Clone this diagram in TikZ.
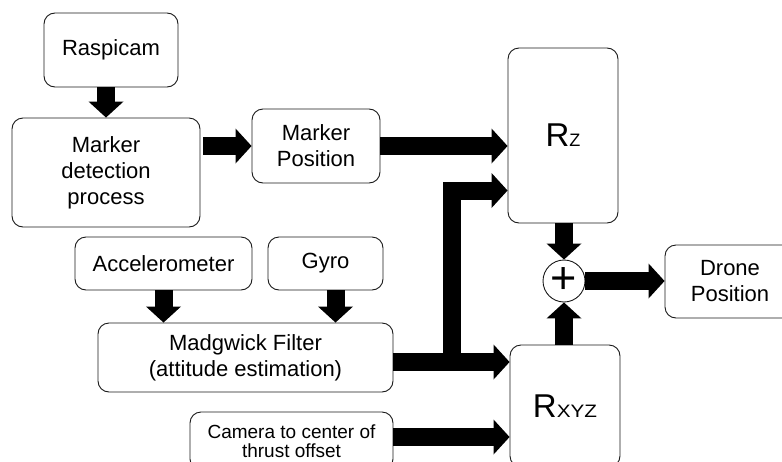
\documentclass[tikz,border=0pt]{standalone}
\usepackage{fontspec}
\setmainfont{Liberation Sans}
\usetikzlibrary{arrows.meta}
\newcommand{\rbig}{\fontsize{33}{33}\selectfont}
\newcommand{\rsmall}{\fontsize{18}{18}\selectfont}
\begin{document}
\begin{tikzpicture}[x=1pt,y=-1pt,
  box/.style={draw=black!90, line width=0.9pt, rounded corners=11pt, align=center,
    inner sep=0pt, font=\fontsize{22}{26}\selectfont},
  fat/.style={line width=18pt, line join=miter,
    -{Triangle[length=16pt,width=35pt,line width=0pt]}},
]
\useasboundingbox (0,0) rectangle (782,461);

% blocks
\node[box, minimum width=134pt, minimum height=74pt] (cam) at (111,50) {Raspicam};
\node[box, minimum width=188pt, minimum height=109pt] (detect) at (106,172.5) {Marker\\detection\\process};
\node[box, minimum width=128pt, minimum height=74pt] (mpos) at (316,146) {Marker\\Position};
\node[box, minimum width=110pt, minimum height=175pt] (rz) at (563,135.5) {\rbig R\rsmall Z};
\node[box, minimum width=177pt, minimum height=53pt] (acc) at (163.5,263.5) {Accelerometer};
\node[box, minimum width=115pt, minimum height=53pt] (gyro) at (325.5,263.5) {Gyro};
\node[box, minimum width=295pt, minimum height=69pt] (madg) at (245.5,357.5) {Madgwick Filter\\(attitude estimation)};
\node[box, minimum width=203pt, minimum height=58pt, font=\fontsize{19}{19}\selectfont] (offs) at (291.5,441) {Camera to center of\\thrust offset};
\node[box, minimum width=110pt, minimum height=122pt] (rxyz) at (565,406) {\rbig R\rsmall\scalebox{1.15}[1]{XYZ}};
\node[circle, draw=black!90, line width=0.9pt, minimum size=42pt, inner sep=0pt,
  font=\fontsize{45}{45}\selectfont] (sum) at (564,281) {+};
\node[box, minimum width=130pt, minimum height=73pt] (drone) at (730,281.5) {Drone\\Position};

% helper points
\coordinate (split) at (451.5,362);
\coordinate (offout) at (offs.east |- 0,437);
\coordinate (gyout) at ([xshift=10pt]gyro.south);

% flows
\draw[fat] (cam.south -| detect.north) -- (detect.north);
\draw[fat, shorten <=3pt] (detect.east |- mpos.west) -- (mpos.west);
\draw[fat] (mpos.east) -- (mpos.east -| rz.west);
\draw[fat] (acc.south) -- (acc.south |- madg.north);
\draw[fat] (gyout) -- (gyout |- madg.north);
\draw[fat] (madg.east |- split) -- (split -| rxyz.west);
\draw[fat] (split) |- ([yshift=-55pt]rz.west);
\draw[fat] (offout) -- (offout -| rxyz.west);
\draw[fat] (sum.north |- rz.south) -- (sum.north);
\draw[fat] (sum.south |- rxyz.north) -- (sum.south);
\draw[fat] (sum.east) -- (sum.east -| drone.west);
\end{tikzpicture}
\end{document}
